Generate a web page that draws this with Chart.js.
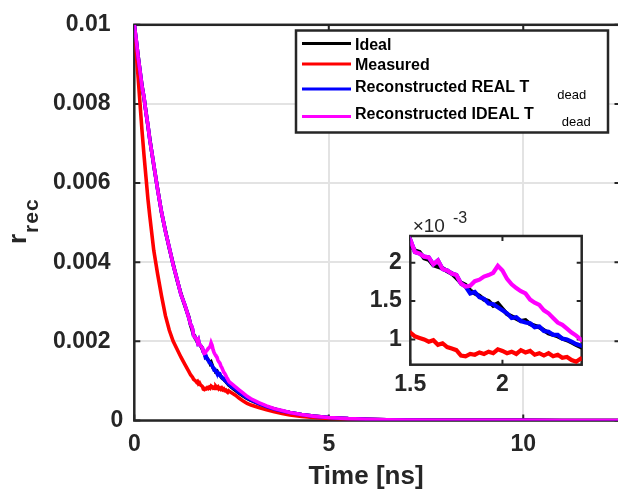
<!DOCTYPE html>
<html>
<head>
<meta charset="utf-8">
<script src="https://cdn.jsdelivr.net/npm/chart.js@4.4.1/dist/chart.umd.min.js"></script>
<style>
    html, body { margin: 0; padding: 0; background: #fff; overflow: hidden; }
    #wrap { position: relative; width: 618px; height: 491px; overflow: hidden; }
    #mainChart { position: absolute; left: 0; top: 0; }
    #insetChart { position: absolute; left: 360px; top: 200px; }
</style>
</head>
<body>
<div id="wrap">
    <canvas id="mainChart" width="640" height="491"></canvas>
    <canvas id="insetChart" width="250" height="200"></canvas>
</div>
<script>
// time [ns]
const timeNs = [
    0, 0.05, 0.1, 0.15, 0.2, 0.25, 0.3, 0.35, 0.4, 0.5, 0.6, 0.7, 0.8, 0.9, 1.0, 1.1, 1.2, 1.3, 1.4,
    1.45, 1.475, 1.5, 1.525, 1.55, 1.575, 1.6, 1.625, 1.65, 1.675, 1.7, 1.725, 1.75, 1.775,
    1.8, 1.825, 1.85, 1.875, 1.9, 1.925, 1.95, 1.975, 2.0, 2.025, 2.05, 2.075, 2.1, 2.125,
    2.15, 2.175, 2.2, 2.225, 2.25, 2.275, 2.3, 2.325, 2.35, 2.375, 2.4, 2.425, 2.45,
    2.5, 2.6, 2.7, 2.8, 2.9, 3.0, 3.2, 3.4, 3.6, 3.8, 4.0, 4.3, 4.6, 5.0, 5.5, 6, 6.5, 7, 8, 9, 10, 11, 12, 12.5
];
// r_rec, in units of 1e-3
const idealVals = [
    10.0, 9.6, 9.2, 8.8, 8.45, 8.15, 7.8, 7.45, 7.1, 6.45, 5.85, 5.25, 4.8, 4.35, 3.95, 3.55, 3.2, 2.9, 2.62,
    2.40, 2.33, 2.24, 2.16, 2.14, 2.06, 2.04, 1.97, 1.95, 1.93, 1.89, 1.86, 1.80, 1.74,
    1.71, 1.64, 1.60, 1.57, 1.52, 1.50, 1.44, 1.47, 1.40, 1.33, 1.30, 1.27, 1.24, 1.25,
    1.20, 1.18, 1.16, 1.12, 1.08, 1.06, 1.04, 1.01, 0.99, 0.96, 0.93, 0.90, 0.88,
    0.84, 0.76, 0.69, 0.62, 0.56, 0.51, 0.43, 0.35, 0.29, 0.24, 0.20, 0.15, 0.11, 0.075, 0.048, 0.032, 0.02, 0.013, 0.006, 0.003, 0.002, 0.001, 0.001, 0.001
];
const measuredVals = [
    9.8, 9.3, 8.65, 7.97, 7.3, 6.7, 6.15, 5.6, 5.15, 4.3, 3.7, 3.15, 2.65, 2.28, 2.0, 1.8, 1.6, 1.42, 1.24,
    1.15, 1.12, 1.09, 1.04, 1.02, 1.00, 0.97, 0.99, 0.93, 0.95, 0.90, 0.88, 0.86, 0.79,
    0.78, 0.81, 0.80, 0.83, 0.81, 0.84, 0.82, 0.87, 0.85, 0.82, 0.84, 0.81, 0.86, 0.83,
    0.85, 0.80, 0.82, 0.79, 0.82, 0.78, 0.80, 0.76, 0.77, 0.73, 0.71, 0.75, 0.73,
    0.70, 0.64, 0.56, 0.49, 0.43, 0.39, 0.33, 0.27, 0.22, 0.18, 0.14, 0.10, 0.08, 0.05, 0.035, 0.024, 0.016, 0.01, 0.005, 0.003, 0.002, 0.001, 0.001, 0.001
];
const realTdeadVals = [
    10.0, 9.62, 9.18, 8.82, 8.43, 8.17, 7.78, 7.47, 7.08, 6.47, 5.83, 5.27, 4.78, 4.37, 3.93, 3.57, 3.18, 2.92, 2.6,
    2.42, 2.38, 2.30, 2.14, 2.12, 2.08, 2.07, 1.98, 2.03, 1.92, 1.90, 1.86, 1.84, 1.73,
    1.69, 1.60, 1.62, 1.55, 1.53, 1.47, 1.46, 1.42, 1.38, 1.34, 1.28, 1.29, 1.24, 1.22,
    1.21, 1.16, 1.17, 1.11, 1.10, 1.06, 1.06, 1.01, 1.00, 0.97, 0.94, 0.92, 0.90,
    0.85, 0.79, 0.70, 0.64, 0.57, 0.52, 0.43, 0.35, 0.29, 0.24, 0.20, 0.15, 0.11, 0.075, 0.048, 0.032, 0.02, 0.013, 0.006, 0.003, 0.002, 0.001, 0.001, 0.001
];
const idealTdeadVals = [
    10.0, 9.62, 9.18, 8.82, 8.43, 8.17, 7.78, 7.47, 7.08, 6.47, 5.83, 5.27, 4.78, 4.37, 3.93, 3.57, 3.18, 2.92, 2.6,
    2.42, 2.38, 2.30, 2.14, 2.12, 2.08, 2.07, 1.98, 2.03, 1.92, 1.90, 1.86, 1.84, 1.73,
    1.69, 1.70, 1.76, 1.78, 1.82, 1.84, 1.87, 1.96, 1.90, 1.79, 1.72, 1.67, 1.63, 1.60,
    1.52, 1.48, 1.45, 1.38, 1.34, 1.28, 1.22, 1.19, 1.14, 1.09, 1.05, 1.00, 0.97,
    0.93, 0.85, 0.77, 0.69, 0.61, 0.55, 0.45, 0.37, 0.30, 0.25, 0.20, 0.15, 0.11, 0.075, 0.048, 0.032, 0.02, 0.013, 0.006, 0.003, 0.002, 0.001, 0.001, 0.001
];
const seriesLabels = ['Ideal', 'Measured', 'Reconstructed REAL T_{dead}', 'Reconstructed IDEAL T_{dead}'];
const seriesColors = ['#000000', '#ff0000', '#0000ff', '#ff00ff'];

// tick values / labels
const mainXTicks = [0, 5, 10];
const mainYTicks = [0, 2, 4, 6, 8, 10];
const mainYTickLabels = ['0', '0.002', '0.004', '0.006', '0.008', '0.01'];
const insetXTicks = [1.5, 2];
const insetXTickLabels = ['1.5', '2'];
const insetYTicks = [1, 1.5, 2];
const insetYTickLabels = ['1', '1.5', '2'];

const fontFamily = '"Liberation Sans", Arial, Helvetica, sans-serif';
const axisColor = '#262626';
Chart.defaults.font.family = fontFamily;
Chart.defaults.color = axisColor;

function makeDatasets(lineWidth) {
    const series = [idealVals, measuredVals, realTdeadVals, idealTdeadVals];
    return series.map((vals, i) => ({
        label: seriesLabels[i],
        data: timeNs.map((t, k) => ({x: t, y: vals[k]})),
        borderColor: seriesColors[i],
        backgroundColor: seriesColors[i],
        borderWidth: lineWidth,
        pointRadius: 0,
        tension: 0,
        order: series.length - i   // magenta on top
    }));
}

// matlab style box with inward ticks
const boxPlugin = {
    id: 'matlabBox',
    beforeDraw(chart, args, opts) {
        if (!opts.background) return;
        const {ctx, chartArea: a} = chart;
        ctx.save();
        ctx.fillStyle = opts.background;
        ctx.fillRect(a.left, a.top, a.right - a.left, a.bottom - a.top);
        ctx.restore();
    },
    beforeDatasetsDraw(chart, args, opts) {
        const {ctx, chartArea: a, scales} = chart;
        ctx.save();
        ctx.strokeStyle = axisColor;
        ctx.lineWidth = 2;
        ctx.beginPath();
        scales.x.ticks.forEach(t => {
            const px = scales.x.getPixelForValue(t.value);
            ctx.moveTo(px, a.bottom);
            ctx.lineTo(px, a.bottom - opts.tickLen);
            ctx.moveTo(px, a.top);
            ctx.lineTo(px, a.top + opts.tickLen);
        });
        scales.y.ticks.forEach(t => {
            const py = scales.y.getPixelForValue(t.value);
            ctx.moveTo(a.left, py);
            ctx.lineTo(a.left + opts.tickLen, py);
            ctx.moveTo(a.right, py);
            ctx.lineTo(a.right - opts.tickLen, py);
        });
        ctx.stroke();
        ctx.lineWidth = 2.5;
        ctx.strokeRect(a.left, a.top, a.right - a.left, a.bottom - a.top);
        ctx.restore();
    }
};

// legend box with subscripts
const legendPlugin = {
    id: 'boxLegend',
    afterDraw(chart, args, o) {
        const ctx = chart.ctx;
        ctx.save();
        ctx.fillStyle = '#fff';
        ctx.fillRect(o.left, o.top, o.width, o.height);
        ctx.strokeStyle = axisColor;
        ctx.lineWidth = 2.5;
        ctx.strokeRect(o.left, o.top, o.width, o.height);
        chart.data.datasets.forEach((ds, i) => {
            const y = o.rows[i];
            ctx.strokeStyle = ds.borderColor;
            ctx.lineWidth = 3;
            ctx.beginPath();
            ctx.moveTo(o.lineX0, y);
            ctx.lineTo(o.lineX1, y);
            ctx.stroke();
            const m = ds.label.match(/^(.*)_\{(.*)\}$/);
            const text = m ? m[1] : ds.label;
            const base = y + o.baseShift[i];
            ctx.fillStyle = '#000';
            ctx.textBaseline = 'alphabetic';
            ctx.textAlign = 'left';
            ctx.font = 'bold 16px ' + fontFamily;
            ctx.fillText(text, o.textX, base);
            if (m) {
                const w = ctx.measureText(text).width;
                ctx.font = '13px ' + fontFamily;
                ctx.fillText(m[2], o.textX + w + o.subGap, base + o.subDrop);
            }
        });
        ctx.restore();
    }
};

// axis titles drawn by hand (rotated subscript label)
const titlesPlugin = {
    id: 'axisTitles',
    afterDraw(chart, args, o) {
        const ctx = chart.ctx;
        ctx.save();
        ctx.fillStyle = axisColor;
        ctx.textBaseline = 'alphabetic';
        ctx.textAlign = 'center';
        ctx.font = 'bold 26px ' + fontFamily;
        ctx.fillText(o.xTitle, o.xTitleX, o.xTitleY);
        ctx.translate(o.yTitleX, o.yTitleY);
        ctx.rotate(-Math.PI / 2);
        ctx.textAlign = 'left';
        ctx.fillText(o.yTitle, 0, 0);
        const w = ctx.measureText(o.yTitle).width;
        ctx.font = 'bold 21px ' + fontFamily;
        ctx.letterSpacing = '1px';
        ctx.fillText(o.yTitleSub, w + 1, 12.5);
        ctx.restore();
    }
};

// exponent label of the inset
const expPlugin = {
    id: 'expLabel',
    afterDraw(chart, args, o) {
        const ctx = chart.ctx;
        ctx.save();
        ctx.fillStyle = axisColor;
        ctx.textBaseline = 'alphabetic';
        ctx.textAlign = 'left';
        ctx.font = '19px ' + fontFamily;
        ctx.fillText(o.base, o.x, o.y);
        const w = ctx.measureText(o.base).width;
        ctx.font = '16px ' + fontFamily;
        ctx.fillText(o.exp, o.x + w + 8, o.y - 9);
        ctx.restore();
    }
};

//Chart 1 : main axes
const ctxMain = document.getElementById('mainChart');
new Chart(ctxMain, {
    type: 'line',
    data: {datasets: makeDatasets(3.6)},
    plugins: [boxPlugin, legendPlugin, titlesPlugin],
    options: {
        responsive: false,
        animation: false,
        events: [],
        layout: {padding: {left: 0, top: 16.5, right: 19.5, bottom: 0}},
        scales: {
            x: {
                type: 'linear',
                min: 0,
                max: 12.5,
                afterBuildTicks: s => { s.ticks = mainXTicks.map(v => ({value: v})); },
                afterFit: s => { s.height = 70.5; },
                grid: {color: '#e3e3e3', lineWidth: 2, drawTicks: false},
                border: {display: false},
                ticks: {font: {size: 23, weight: 'bold'}, padding: 10, maxRotation: 0, autoSkip: false}
            },
            y: {
                type: 'linear',
                min: 0,
                max: 10,
                afterBuildTicks: s => { s.ticks = mainYTicks.map(v => ({value: v})); },
                afterFit: s => { s.width = 134.3; },
                grid: {color: '#e3e3e3', lineWidth: 2, drawTicks: false},
                border: {display: false},
                ticks: {
                    font: {size: 23, weight: 'bold'},
                    padding: 11,
                    autoSkip: false,
                    callback: (v) => {
                        const lbl = mainYTickLabels[mainYTicks.indexOf(v)];
                        return v === 0 ? lbl : lbl + '  ';
                    }
                }
            }
        },
        plugins: {
            legend: {display: false},
            tooltip: {enabled: false},
            matlabBox: {tickLen: 6},
            boxLegend: {
                left: 296, top: 30.5, width: 312, height: 102,
                rows: [43.5, 64, 89, 116.5],
                baseShift: [6, 6, 2.7, 2.5],
                lineX0: 302, lineX1: 351, textX: 355,
                subGap: 28, subDrop: 7
            },
            axisTitles: {
                xTitle: 'Time [ns]', xTitleX: 366, xTitleY: 483.5,
                yTitle: 'r', yTitleSub: 'rec', yTitleX: 25.5, yTitleY: 244
            }
        }
    }
});

//Chart 2 : inset zoom
const ctxInset = document.getElementById('insetChart');
new Chart(ctxInset, {
    type: 'line',
    data: {datasets: makeDatasets(4.2)},
    plugins: [boxPlugin, expPlugin],
    options: {
        responsive: false,
        animation: false,
        events: [],
        layout: {padding: {left: 0, top: 36, right: 28.3, bottom: 0}},
        scales: {
            x: {
                type: 'linear',
                min: 1.5,
                max: 2.43,
                afterBuildTicks: s => { s.ticks = insetXTicks.map(v => ({value: v})); },
                afterFit: s => { s.height = 35.3; },
                grid: {display: false, drawTicks: false},
                border: {display: false},
                ticks: {
                    font: {size: 23, weight: 'bold'}, padding: 6.5, maxRotation: 0, autoSkip: false,
                    callback: (v) => insetXTickLabels[insetXTicks.indexOf(v)]
                }
            },
            y: {
                type: 'linear',
                min: 0.67,
                max: 2.35,
                afterBuildTicks: s => { s.ticks = insetYTicks.map(v => ({value: v})); },
                afterFit: s => { s.width = 50.3; },
                grid: {display: false, drawTicks: false},
                border: {display: false},
                ticks: {
                    font: {size: 23, weight: 'bold'}, padding: 8.5, autoSkip: false,
                    callback: (v) => insetYTickLabels[insetYTicks.indexOf(v)]
                }
            }
        },
        plugins: {
            legend: {display: false},
            tooltip: {enabled: false},
            matlabBox: {tickLen: 5, background: '#ffffff'},
            expLabel: {base: '\u00d710', exp: '-3', x: 52.7, y: 31.7}
        }
    }
});
</script>
</body>
</html>
